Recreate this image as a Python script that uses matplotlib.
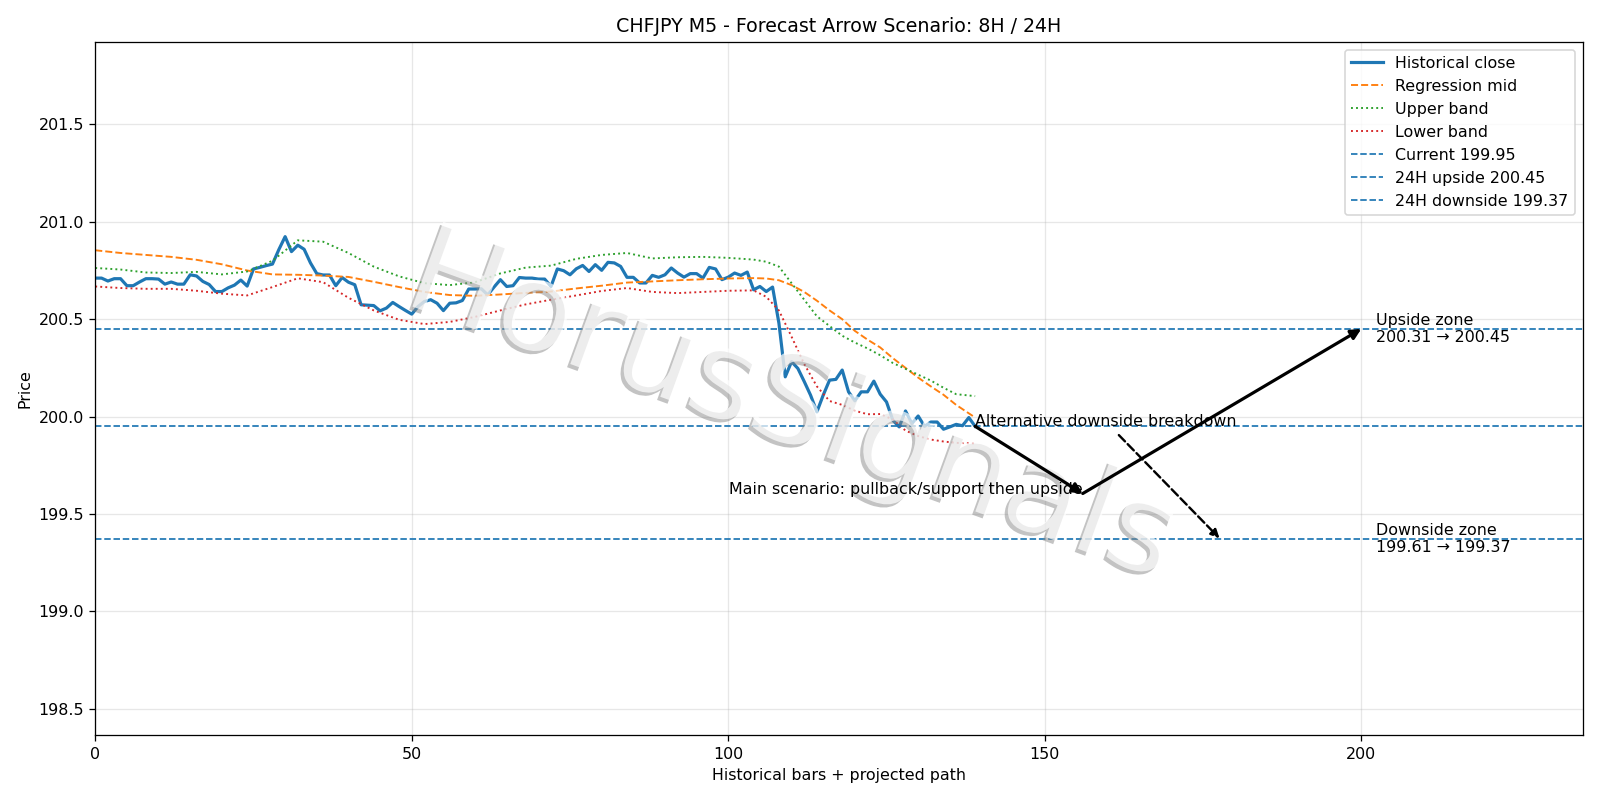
import matplotlib
matplotlib.use("Agg")
import matplotlib.pyplot as plt
import matplotlib.patheffects as pe
import numpy as np

# historical close, one value per bar (0..139)
close = [
    200.711, 200.711, 200.696, 200.708, 200.708, 200.672, 200.672, 200.691, 200.708, 200.708,
    200.706, 200.680, 200.691, 200.680, 200.680, 200.728, 200.722, 200.694, 200.678, 200.642,
    200.642, 200.661, 200.675, 200.701, 200.670, 200.758, 200.766, 200.775, 200.783, 200.857,
    200.924, 200.847, 200.880, 200.859, 200.789, 200.734, 200.727, 200.727, 200.672, 200.714,
    200.690, 200.677, 200.574, 200.572, 200.570, 200.543, 200.557, 200.586, 200.565, 200.545,
    200.526, 200.565, 200.591, 200.600, 200.582, 200.544, 200.582, 200.584, 200.596, 200.655,
    200.655, 200.656, 200.625, 200.665, 200.703, 200.668, 200.672, 200.714, 200.711, 200.711,
    200.706, 200.706, 200.668, 200.758, 200.749, 200.728, 200.759, 200.776, 200.745, 200.780,
    200.751, 200.792, 200.789, 200.771, 200.715, 200.715, 200.686, 200.686, 200.725, 200.715,
    200.728, 200.763, 200.737, 200.716, 200.734, 200.734, 200.711, 200.766, 200.758, 200.703,
    200.716, 200.737, 200.725, 200.742, 200.651, 200.668, 200.642, 200.665, 200.480, 200.204,
    200.282, 200.247, 200.180, 200.110, 200.024, 200.110, 200.187, 200.191, 200.239, 200.127,
    200.081, 200.127, 200.127, 200.182, 200.115, 200.075, 199.981, 199.947, 200.029, 199.964,
    200.003, 199.950, 199.972, 199.972, 199.935, 199.947, 199.960, 199.953, 199.995, 199.950,
]

# regression channel, read at these bars
band_x = [0, 4, 8, 12, 16, 20, 24, 28, 32, 36, 40, 44, 48, 52, 56, 60, 64, 68, 72, 76,
          80, 84, 88, 92, 96, 100, 104, 106, 108, 110, 112, 114, 116, 118, 120, 122, 124,
          126, 128, 130, 132, 134, 136, 139]
mid = [200.854, 200.840, 200.830, 200.820, 200.805, 200.782, 200.750, 200.730, 200.728, 200.724,
       200.717, 200.692, 200.665, 200.640, 200.624, 200.620, 200.627, 200.635, 200.642, 200.658,
       200.672, 200.688, 200.694, 200.700, 200.705, 200.709, 200.711, 200.709, 200.700, 200.675,
       200.640, 200.595, 200.545, 200.500, 200.440, 200.395, 200.355, 200.300, 200.250, 200.200,
       200.155, 200.112, 200.060, 199.995]
upper = [200.763, 200.755, 200.740, 200.737, 200.743, 200.730, 200.745, 200.800, 200.905, 200.898,
         200.840, 200.770, 200.720, 200.685, 200.675, 200.690, 200.735, 200.765, 200.775, 200.810,
         200.830, 200.840, 200.812, 200.818, 200.820, 200.815, 200.806, 200.795, 200.770, 200.685,
         200.600, 200.515, 200.465, 200.415, 200.380, 200.350, 200.315, 200.275, 200.245, 200.215,
         200.185, 200.148, 200.115, 200.105]
lower = [200.668, 200.660, 200.656, 200.656, 200.646, 200.631, 200.622, 200.665, 200.710, 200.690,
         200.610, 200.545, 200.497, 200.475, 200.486, 200.512, 200.545, 200.576, 200.600, 200.622,
         200.645, 200.660, 200.640, 200.634, 200.640, 200.646, 200.648, 200.615, 200.545, 200.410,
         200.270, 200.155, 200.080, 200.060, 200.030, 200.012, 200.013, 199.985, 199.928, 199.900,
         199.882, 199.872, 199.865, 199.862]

current = 199.95
up_target = 200.45
down_target = 199.37
up_zone = (200.31, 200.45)
down_zone = (199.61, 199.37)

# projected path points (bar, price)
main_path_x = [139, 156, 200]
main_path_y = [199.95, 199.605, 200.45]
alt_path_x = [161.7, 177.6]
alt_path_y = [199.905, 199.375]

# 14x7 in at ~114 dpi -> 1600x800 px
DPI = 1600 / 14
fig, ax = plt.subplots(figsize=(14, 7), dpi=DPI)

x = np.arange(len(close))
ax.plot(x, close, color="#1f77b4", lw=2, label="Historical close")
ax.plot(band_x, mid, color="#ff7f0e", ls="--", lw=1.2, label="Regression mid")
ax.plot(band_x, upper, color="#2ca02c", ls=":", lw=1.2, label="Upper band")
ax.plot(band_x, lower, color="#d62728", ls=":", lw=1.2, label="Lower band")

ax.axhline(current, color="#1f77b4", ls="--", lw=1.1, label=f"Current {current:.2f}")
ax.axhline(up_target, color="#1f77b4", ls="--", lw=1.1, label=f"24H upside {up_target:.2f}")
ax.axhline(down_target, color="#1f77b4", ls="--", lw=1.1, label=f"24H downside {down_target:.2f}")

# watermark: white text with a soft grey drop shadow, over the lines but under the notes
ax.text(0.495, 0.49, "HorusSignals", transform=fig.transFigure, fontsize=78,
        color="white", alpha=0.7, rotation=-20, ha="center", va="center", zorder=2.5,
        path_effects=[pe.withSimplePatchShadow(offset=(-2, -2), shadow_rgbFace="#888888", alpha=0.5)])

# main scenario arrows
arrow_kw = dict(arrowstyle="-|>", color="black", lw=2.0, mutation_scale=13,
                shrinkA=0, shrinkB=0)
for i in range(len(main_path_x) - 1):
    ax.annotate("", xy=(main_path_x[i + 1], main_path_y[i + 1]),
                xytext=(main_path_x[i], main_path_y[i]), arrowprops=arrow_kw)
ax.text(main_path_x[1], main_path_y[1], "Main scenario: pullback/support then upside",
        ha="right", va="baseline", fontsize=10)

# alternative scenario
ax.annotate("", xy=(alt_path_x[1], alt_path_y[1]), xytext=(alt_path_x[0], alt_path_y[0]),
            arrowprops=dict(arrowstyle="-|>", color="black", lw=1.5, ls="--",
                            mutation_scale=11, shrinkA=0, shrinkB=0))
ax.text(139, current, "Alternative downside breakdown", ha="left", va="baseline", fontsize=10)

ax.text(202.4, up_target, f"Upside zone\n{up_zone[0]:.2f} → {up_zone[1]:.2f}",
        ha="left", va="center", fontsize=10)
ax.text(202.4, down_target, f"Downside zone\n{down_zone[0]:.2f} → {down_zone[1]:.2f}",
        ha="left", va="center", fontsize=10)

ax.set_xlim(0, 235)
ax.set_ylim(198.363, 201.925)
ax.set_title("CHFJPY M5 - Forecast Arrow Scenario: 8H / 24H")
ax.set_xlabel("Historical bars + projected path")
ax.set_ylabel("Price")
ax.grid(True, alpha=0.3)
ax.legend(loc="upper right")

fig.tight_layout()
fig.savefig("out.png", dpi=DPI)
